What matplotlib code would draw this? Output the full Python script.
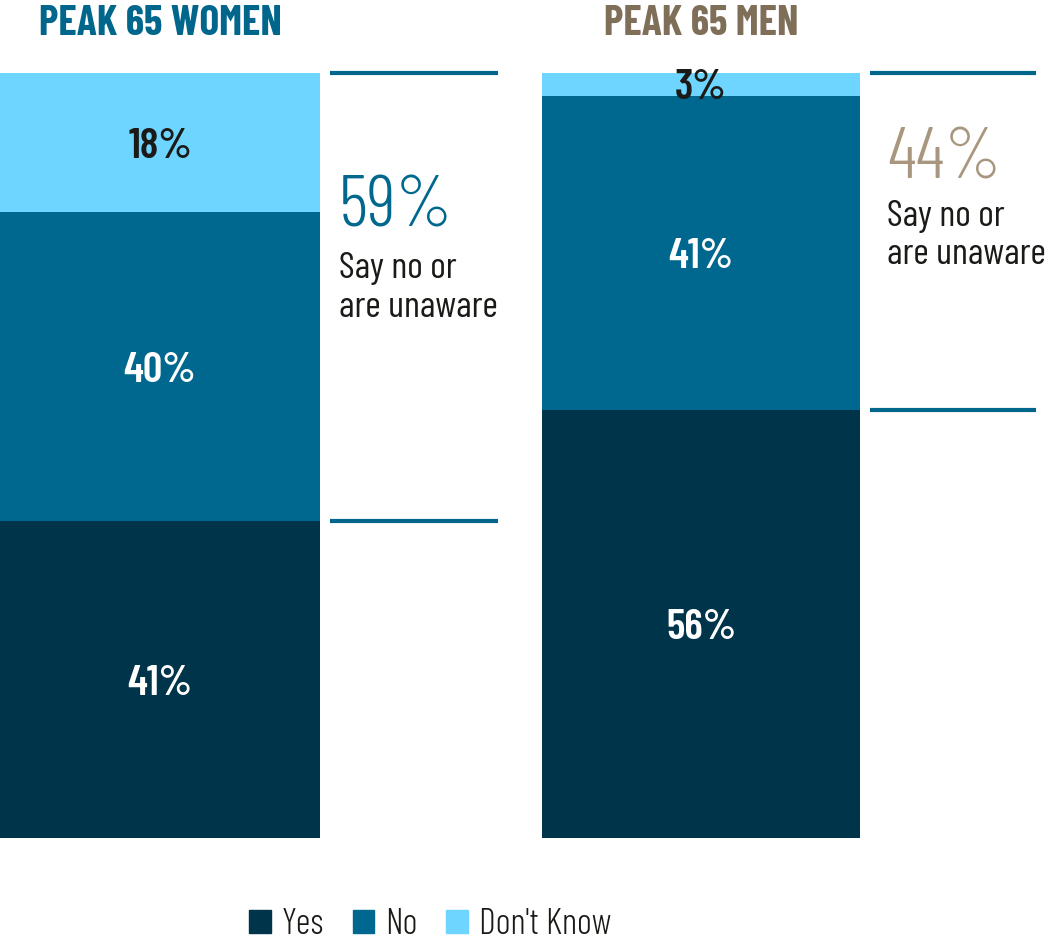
import matplotlib.pyplot as plt
from matplotlib.patches import Rectangle

plt.rcParams['font.family'] = ['Barlow Condensed', 'DejaVu Sans']

groups = ['PEAK 65 WOMEN', 'PEAK 65 MEN']
answers = ['Yes', 'No', "Don't Know"]
yes = [41, 56]
no = [40, 41]
dont_know = [18, 3]
unaware = [59, 44]

colors = ['#00344a', '#00678f', '#6dd5ff']
label_colors = ['white', 'white', '#1c1a17']
title_colors = ['#00668c', '#7f6e58']
big_colors = ['#00688f', '#a8977e']
text_dark = '#1c1a17'

W, H = 1048, 942
fig = plt.figure(figsize=(W / 100, H / 100), dpi=100)

# panel placement in pixels: left, width, bar width
panels = [(0, 520, 320), (542, 506, 318)]
big_y = [0.823, 0.886]
line1_y = [0.744, 0.812]
line2_y = [0.694, 0.763]

for i, (left, width, barw) in enumerate(panels):
    ax = fig.add_axes([left / W, 104 / H, width / W, 765 / H])
    vals = [yes[i], no[i], dont_know[i]]
    total = sum(vals)
    bottom = 0
    for v, c, lc in zip(vals, colors, label_colors):
        ax.bar(0, v, width=1, bottom=bottom, align='edge', color=c, linewidth=0)
        ax.annotate(f'{v}%', (0.5, bottom + v / 2), xytext=(0, -4),
                    textcoords='offset pixels', ha='center', va='center',
                    color=lc, fontsize=31, fontweight=600)
        bottom += v
    ax.set_xlim(0, width / barw)
    ax.set_ylim(0, total)
    ax.axis('off')

    # bracket around the "No" + "Don't Know" share
    x0, x1 = 1.03, 1.555
    for yv in (total, yes[i]):
        ax.hlines(yv, x0, x1, color='#00668c', linewidth=3, clip_on=False)

    tx = 1.06 if i == 0 else 1.085
    ax.text(tx, big_y[i], f'{unaware[i]}%', transform=ax.get_xaxis_transform(),
            ha='left', va='center', fontsize=52, color=big_colors[i],
            fontweight=300)
    ax.text(tx, line1_y[i], 'Say no or', transform=ax.get_xaxis_transform(),
            ha='left', va='center', fontsize=27, color=text_dark, fontweight=400)
    ax.text(tx, line2_y[i], 'are unaware', transform=ax.get_xaxis_transform(),
            ha='left', va='center', fontsize=27, color=text_dark, fontweight=400)

    ax.text(0.5, 1.0 + 49 / 765, groups[i], transform=ax.get_xaxis_transform(),
            ha='center', va='center', fontsize=30, fontweight='bold',
            color=title_colors[i])

handles = [Rectangle((0, 0), 1, 1, color=c) for c in colors]
fig.legend(handles, answers, loc='center', bbox_to_anchor=(430 / W, 1 - 925 / H),
           ncol=3, frameon=False, prop={'size': 26, 'weight': 300},
           handlelength=0.6, handleheight=0.6, handletextpad=0.3,
           columnspacing=0.8, labelcolor=text_dark)

fig.savefig('out.png', dpi=100)
